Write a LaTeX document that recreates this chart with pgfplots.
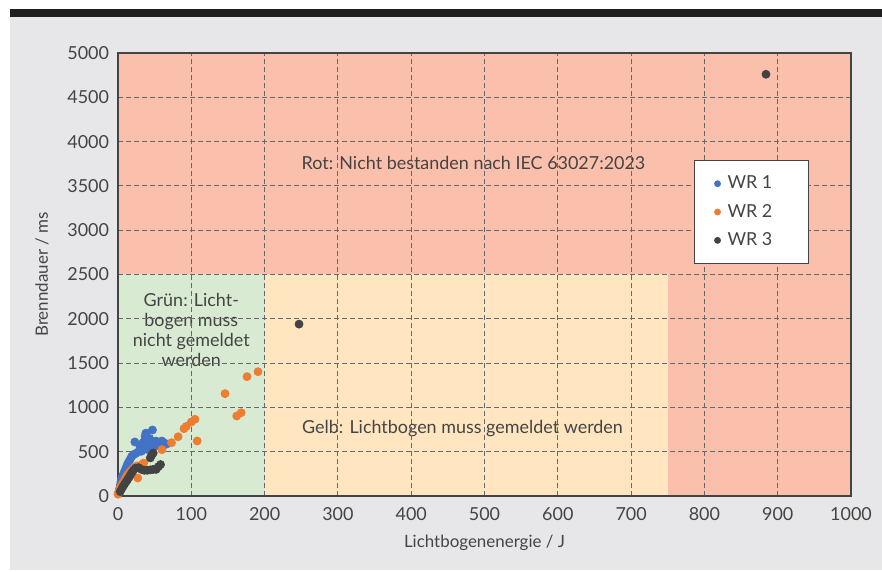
\documentclass[border=0pt]{standalone}
\usepackage{pgfplots}
\pgfplotsset{compat=1.18}
\usepackage{fontspec}
\setmainfont{Lato}

\definecolor{bg}{RGB}{231,231,233}
\definecolor{rot}{RGB}{251,192,172}
\definecolor{gruen}{RGB}{217,234,211}
\definecolor{gelb}{RGB}{255,230,192}
\definecolor{txt}{RGB}{68,68,68}
\definecolor{gridc}{RGB}{105,105,105}
\definecolor{wrA}{RGB}{68,114,196}
\definecolor{wrB}{RGB}{237,125,49}
\definecolor{wrC}{RGB}{67,67,67}

\pgfplotsset{
    wrdot/.style={only marks, mark=*, mark size=2bp, #1, mark options={draw=#1, fill=#1}},
}

\begin{document}
\begin{tikzpicture}
% page: 882 x 572 px, 1 px = 0.5bp
\useasboundingbox (0bp,0bp) rectangle (441bp,286bp);
\fill[bg] (5bp,1bp) rectangle (441bp,277.5bp);
\fill[black!88] (5bp,277.5bp) rectangle (441bp,281.5bp);
\begin{axis}[
    at={(59bp,38bp)}, anchor=south west,
    scale only axis,
    width=366.5bp, height=221.5bp,
    xmin=0, xmax=1000,
    ymin=0, ymax=5000,
    xtick={0,100,...,1000},
    ytick={0,500,...,5000},
    grid=major,
    major grid style={gridc, line width=0.5bp, dash pattern=on 2.5bp off 1.5bp},
    major tick length=0pt,
    axis line style={txt, line width=0.8bp},
    axis on top,
    /pgf/number format/1000 sep={},
    /pgf/number format/assume math mode=true,
    tick label style={font=\fontsize{9}{10}\selectfont, text=txt},
    xticklabel style={yshift=-2bp},
    yticklabel style={xshift=-1bp},
    xlabel={Lichtbogenenergie / J},
    ylabel={Brenndauer / ms},
    label style={font=\fontsize{8.5}{10}\selectfont, text=txt},
    xlabel style={at={(axis description cs:0.5,0)}, anchor=center, yshift=-23.5bp},
    ylabel style={at={(axis description cs:-0.1037,0.5)}, anchor=center},
    legend style={at={(rel axis cs:0.786,0.758)}, anchor=north west,
        draw=txt, fill=white, line width=0.6bp,
        font=\fontsize{9}{10}\selectfont, text=txt,
        inner xsep=10bp, inner ysep=5.5bp, row sep=2.2bp},
    legend cell align=left,
    legend image code/.code={%
        \draw[#1, mark size=1.4bp] plot coordinates {(0.12cm,0cm)};
        \path[draw=none, fill=none] (0.12cm,0cm) rectangle ++(3bp,0.1bp);},
]
% Bereiche
\addplot[draw=none, fill=rot, forget plot] coordinates {(0,0) (1000,0) (1000,5000) (0,5000)} -- cycle;
\addplot[draw=none, fill=gruen, forget plot] coordinates {(0,0) (200,0) (200,2500) (0,2500)} -- cycle;
\addplot[draw=none, fill=gelb, forget plot] coordinates {(200,0) (750,0) (750,2500) (200,2500)} -- cycle;

\node[text=txt, font=\fontsize{9}{10}\selectfont] at (axis cs:485,3758) {Rot: Nicht bestanden nach IEC 63027:2023};
\node[text=txt, font=\fontsize{9}{10}\selectfont] at (axis cs:470,767) {Gelb: Lichtbogen muss gemeldet werden};
\node[text=txt, font=\fontsize{9}{10}\selectfont, align=center] at (axis cs:100,1873) {Grün: Licht-\\bogen muss\\nicht gemeldet\\werden};

% WR 1
\addplot[wrdot=wrA] coordinates {
(1,40) (2,80) (3,120) (4,160) (5,200) (7,240) (9,280) (11,320) (13,360) (15,390)
(17,420) (19,450) (21,465) (24,480) (23,610) (28,500) (32,505) (35,540) (36,620)
(37,675) (38,710) (40,525) (42,600) (43,650) (45,560) (46,620) (47,745) (48,590)
(50,560) (52,620) (54,600) (56,580) (58,610) (60,620) (63,600) (66,585) (40,580)
(30,560) (34,600)
};
\addlegendentry{WR 1\hspace*{6bp}}

% WR 2
\addplot[wrdot=wrB] coordinates {
(0,20) (1,45) (2,70) (3,95) (5,120) (7,150) (9,180) (11,210) (13,240) (16,270)
(19,295) (22,320) (27,203) (26,340) (29,335) (32,350) (35,372) (60,523) (73,602)
(82,669) (90,760) (93,785) (100,835) (105,866) (108,621) (146,1155) (162,903)
(168,940) (176,1347) (191,1403)
};
\addlegendentry{WR 2}

% WR 3
\addplot[wrdot=wrC] coordinates {
(3,50) (5,80) (7,110) (9,135) (11,160) (13,185) (15,210) (17,240) (19,265) (21,290)
(24,315) (28,320) (32,300) (36,290) (40,290) (44,295) (48,300) (52,300) (55,330)
(58,355) (44,430) (46,460) (48,485) (247,1940) (884,4760)
};
\addlegendentry{WR 3}
\end{axis}
\end{tikzpicture}
\end{document}
